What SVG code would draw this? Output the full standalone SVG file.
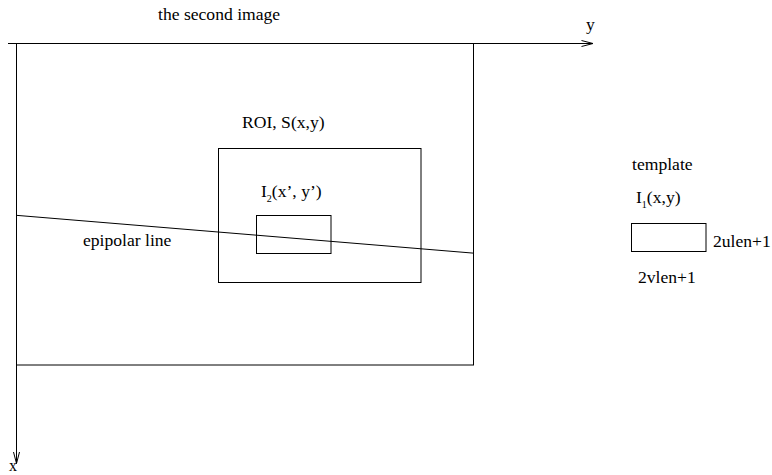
<svg xmlns="http://www.w3.org/2000/svg" width="772" height="475" viewBox="0 0 772 475">
<style>
.s{fill:none;stroke:#000;stroke-width:1}
.t{font-family:'Liberation Serif','Times New Roman',Times,serif;font-size:17.6px;fill:#000}
.sub{font-size:10px}
</style>
<defs>
<marker id="ar" markerWidth="14" markerHeight="8" refX="12" refY="4" orient="auto" markerUnits="userSpaceOnUse">
<path d="M0.5,1 L12,4 L0.5,7" fill="none" stroke="#000" stroke-width="1"/>
</marker>
</defs>
<rect width="772" height="475" fill="#fff"/>
<g id="image2">
<rect class="s" x="16.5" y="43.5" width="457" height="321.5"/>
<text class="t" x="158" y="20">the second image</text>
</g>
<g id="roi">
<rect class="s" x="218.5" y="148.5" width="202.5" height="134"/>
<text class="t" x="242" y="128">ROI, S(x,y)</text>
</g>
<g id="window">
<rect class="s" x="256.5" y="215.5" width="74.5" height="38"/>
<text class="t" x="261" y="197">I<tspan class="sub" dy="5">2</tspan><tspan dy="-5">(x’, y’)</tspan></text>
</g>
<g id="template">
<rect class="s" x="631.5" y="223.5" width="74.5" height="28"/>
<text class="t" x="632" y="170">template</text>
<text class="t" x="636" y="203">I<tspan class="sub" dy="5">1</tspan><tspan dy="-5">(x,y)</tspan></text>
<text class="t" x="713" y="247">2ulen+1</text>
<text class="t" x="638" y="283">2vlen+1</text>
</g>
<g id="connectors">
<line class="s" x1="8" y1="43.5" x2="593" y2="43.5" marker-end="url(#ar)"/>
<line class="s" x1="16.5" y1="43.5" x2="16.5" y2="463.5" marker-end="url(#ar)"/>
<line class="s" x1="16" y1="215.3" x2="473" y2="253.1"/>
<text class="t" x="586" y="30">y</text>
<text class="t" x="9" y="471" style="font-size:16px">x</text>
<text class="t" x="83" y="246">epipolar line</text>
</g>
</svg>
